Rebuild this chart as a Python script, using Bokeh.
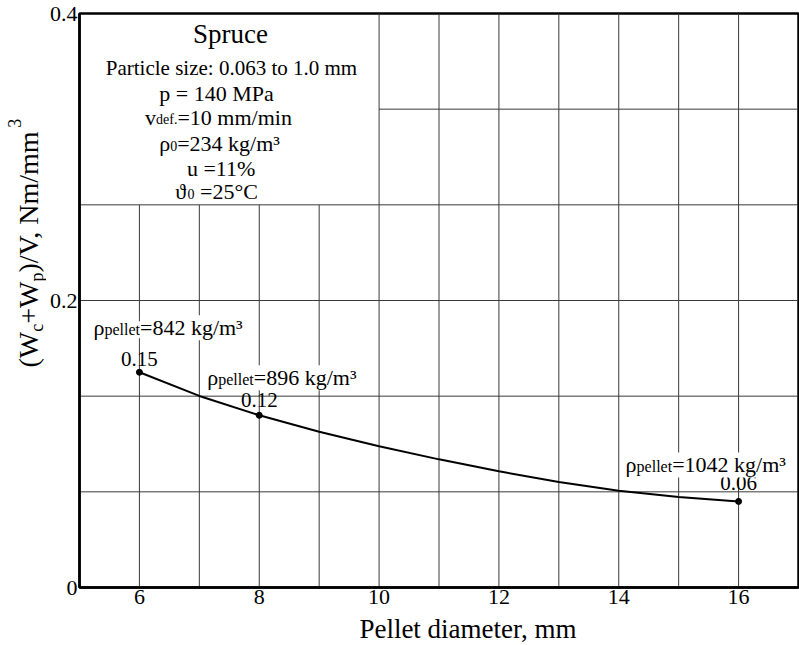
import math

from bokeh.plotting import figure
from bokeh.layouts import row, column
from bokeh.models import Range1d, FixedTicker, Label
from bokeh.embed import file_html
from bokeh.resources import INLINE

# Measured specific compaction energy for spruce pellets
diameter_mm = [6, 8, 16]
energy_density = [0.15, 0.12, 0.06]
pellet_density = [842, 896, 1042]

# Fitted trend curve read along the diameter axis
curve_d = [6, 7, 8, 9, 10, 11, 12, 13, 14, 15, 16]
curve_e = [0.15, 0.1335, 0.12, 0.1085, 0.0985, 0.0893, 0.081, 0.0735, 0.0675, 0.063, 0.06]

x_ticks = [6, 8, 10, 12, 14, 16]
y_ticks = [0, 0.2, 0.4]
y_tick_labels = ["0", "0.2", "0.4"]

FONT = "Liberation Serif"
MID = 0.34  # distance from the text box middle down to the baseline, in em

# Shared page geometry (pixels)
TOP, BOTTOM = 13, 27
ROW_H = 614

# Advance widths of the serif face (units per 1000 em)
ADV = {" ": 250, ".": 250, ",": 250, ":": 278, "=": 564, "/": 278, "%": 833,
       "°": 400, "³": 300, "(": 333, ")": 333, "+": 564, "ρ": 500, "ϑ": 560,
       "a": 444, "c": 444, "d": 500, "e": 444, "f": 333, "g": 500, "i": 278,
       "k": 500, "l": 278, "m": 778, "n": 500, "o": 500, "p": 500, "r": 333,
       "s": 389, "t": 278, "u": 500, "v": 500, "z": 444,
       "C": 667, "M": 889, "N": 722, "P": 556, "S": 556, "V": 722, "W": 944}


def adv(text, size):
    return sum(ADV.get(ch, 500) for ch in text) * size / 1000.0


def text_run(fig, pieces, x, y, units="screen", dx=0.0, dy=0.0, align="left",
             angle=0.0, background=None):
    """Lay out (text, size, baseline_shift) pieces one after another on a
    common baseline at (x, y) + (dx, dy) pixels."""
    total = sum(adv(t, s) for t, s, _ in pieces)
    pos = {"left": 0.0, "center": -total / 2, "right": -total}[align]
    for t, s, shift in pieces:
        stripped = t.lstrip(" ")
        pos += adv(t[:len(t) - len(stripped)], s)
        if angle == 0:
            xo, yo = dx + pos, dy + shift + MID * s
        else:
            xo, yo = dx - shift - MID * s, dy + pos
        fig.add_layout(Label(x=x, y=y, x_units=units, y_units=units,
                             x_offset=xo, y_offset=yo, text=stripped,
                             angle=angle, text_font=FONT,
                             text_font_size=f"{s}px", text_color="black",
                             text_align="left", text_baseline="middle",
                             background_fill_color=background))
        pos += adv(stripped, s)


def blank_panel(w, h, **borders):
    f = figure(width=w, height=h, x_range=Range1d(0, 1), y_range=Range1d(0, 1),
               output_backend="svg", toolbar_location=None,
               x_axis_location=None, y_axis_location=None,
               min_border=0, **borders)
    f.grid.visible = False
    f.outline_line_color = None
    f.background_fill_color = "white"
    f.border_fill_color = "white"
    return f


# ---- main chart -----------------------------------------------------------
p = figure(width=753, height=ROW_H,
           x_range=Range1d(5, 17), y_range=Range1d(0, 0.4),
           output_backend="svg", toolbar_location=None,
           min_border_left=33, min_border_right=1,
           min_border_top=TOP, min_border_bottom=BOTTOM)
p.grid.visible = False
p.background_fill_color = "white"
p.border_fill_color = "white"
p.outline_line_color = "black"
p.outline_line_width = 2.5
p.outline_line_alpha = 1.0

for ax in (p.xaxis[0], p.yaxis[0]):
    ax.axis_label = None
    ax.axis_line_width = 2.5
    ax.axis_line_color = "black"
    ax.major_tick_out = 0
    ax.major_tick_in = 0
    ax.minor_tick_out = 0
    ax.minor_tick_in = 0
    ax.major_label_text_font = FONT
    ax.major_label_text_font_size = "22px"
    ax.major_label_text_color = "black"
p.xaxis.major_label_standoff = 2
p.yaxis.major_label_standoff = 2

p.xaxis.ticker = FixedTicker(ticks=x_ticks)
p.yaxis.ticker = FixedTicker(ticks=y_ticks)
p.yaxis.major_label_overrides = {t: s for t, s in zip(y_ticks, y_tick_labels)}

# Grid: one line per mm and per 1/6 of the energy range; the legend block
# in the upper-left corner (x < 10, above the fourth line) is kept clear.
step = 0.4 / 6
box_bottom = 4 * step
vx = list(range(6, 17))
vtop = [0.4 if x >= 10 else box_bottom for x in vx]
hy = [k * step for k in range(1, 6)]
hleft = [10 if y > box_bottom + 1e-9 else 5 for y in hy]
p.segment(x0=vx, y0=[0] * len(vx), x1=vx, y1=vtop,
          line_color="#3a3a3a", line_width=1, level="underlay")
p.segment(x0=hleft, y0=hy, x1=[17] * len(hy), y1=hy,
          line_color="#3a3a3a", line_width=1, level="underlay")

# Trend curve and measured points
p.line(curve_d, curve_e, line_color="black", line_width=2)
p.scatter(diameter_mm, energy_density, size=6, color="black")

# Legend block (pixels from the frame's lower-left corner)
text_run(p, [("Spruce", 27, 0)], 151, 544, align="center")
text_run(p, [("Particle size: 0.063 to 1.0 mm", 21, 0)], 152, 512, align="center")
text_run(p, [("p = 140 MPa", 22, 0)], 137, 487, align="center")
text_run(p, [("v", 22, 0), ("def.", 14, 0), ("=10 mm/min", 22, 0)], 139, 463, align="center")
text_run(p, [("ρ", 22, 0), ("0", 14, 0), ("=234 kg/m³", 22, 0)], 140, 437, align="center")
text_run(p, [("u =11%", 22, 0)], 142, 412, align="center")
text_run(p, [("ϑ", 22, 0), ("0", 14, 0), (" =25°C", 22, 0)], 137, 389, align="center")

# Point annotations: value and pellet density
value_offsets = [(0, 6), (0, 8.5), (0, 11)]
density_offsets = [(-46, 37), (-52, 30), (-113, 29)]
for d, e, rho, (vx_o, vy_o), (rx_o, ry_o) in zip(diameter_mm, energy_density,
                                                 pellet_density, value_offsets,
                                                 density_offsets):
    text_run(p, [(f"{e:.2f}", 21, 0)], d, e, units="data", dx=vx_o, dy=vy_o,
             align="center")
    text_run(p, [("ρ", 22, 0), ("pellet", 16, 0), (f"={rho} kg/m³", 22, 0)],
             d, e, units="data", dx=rx_o, dy=ry_o, background="white")

# ---- axis titles ------------------------------------------------------------
# Vertical title: its panel shares the chart's top/bottom borders, so its
# coordinates count from the same frame bottom edge.
ytitle = blank_panel(46, ROW_H, min_border_top=TOP, min_border_bottom=BOTTOM)
frame_bottom = ROW_H - BOTTOM
text_run(ytitle, [("(W", 28, 0), ("c", 18, -5), ("+W", 28, 0), ("p", 18, -5),
                  (")/V, Nm/mm", 28, 0), ("3", 18, 18)],
         38, frame_bottom - 367, angle=math.pi / 2)

xtitle = blank_panel(799, 645 - ROW_H)
text_run(xtitle, [("Pellet diameter, mm", 27, 0)], 468, 7, align="center")

page = column(row(ytitle, p), xtitle)

open("out.html", "w").write(file_html(page, INLINE))
